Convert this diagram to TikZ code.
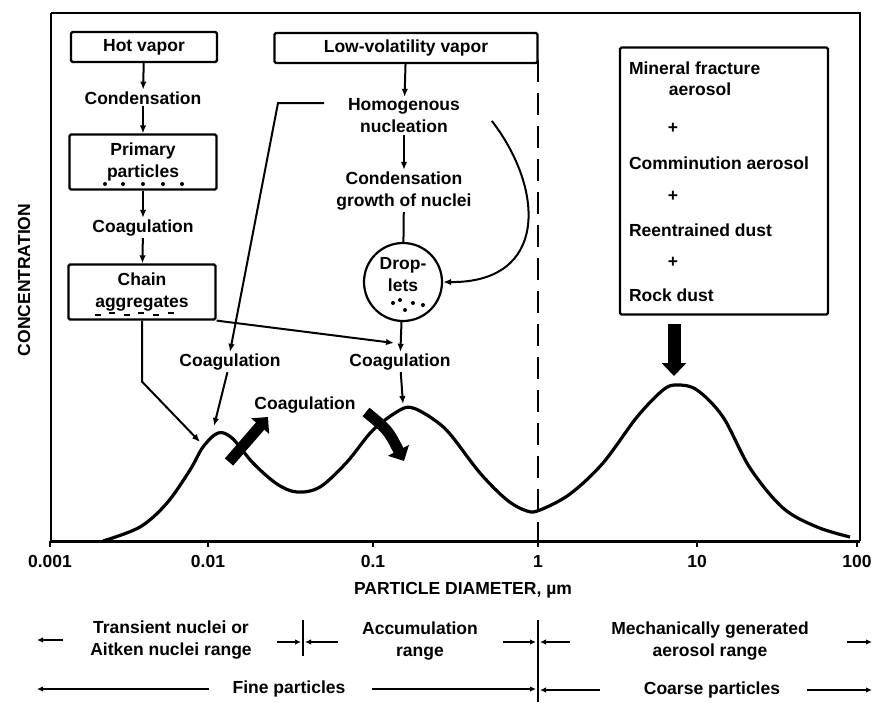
\documentclass[tikz,border=0pt]{standalone}
\usepackage{fontspec}
\setmainfont{Liberation Sans}
\usetikzlibrary{arrows.meta,positioning}

\begin{document}
\begin{tikzpicture}
[ x=1pt, y=-1pt, line width=2pt
, font=\fontsize{17.5}{22}\selectfont\bfseries
, box/.style={rectangle, draw, line width=2.2pt, rounded corners=1.5pt, align=center, inner sep=0pt}
, txt/.style={align=center, inner sep=1pt}
, flow/.style={-{Latex[length=8pt, width=6.5pt]}}
, rangearrow/.style={-{Latex[length=6pt, width=5.5pt]}, line width=2pt}
, fat/.style={line width=11pt, -{Triangle[length=12pt, width=23pt]}}
, curve/.style={line width=3.2pt, line join=round}
]
\useasboundingbox (0,0) rectangle (876,702);

% Frame and axis:
\draw[line width=2.4pt] (51,13) -- (860,13) -- (860,541);
\draw[line width=2.4pt] (51,13) -- (51,541);
\draw[line width=3pt] (51,541) -- (860,541);
\foreach \v/\x in {0.001/50, 0.01/208, 0.1/373, 1/538, 10/697, 100/857}
{ \draw[line width=2pt] (\x,541) -- (\x,547);
  \node (tick\x) [txt] at (\x,561) {\v};
}
\node (xlab) [txt] at (463,590) {PARTICLE DIAMETER, µm};
\node (ylab) [txt, rotate=90] at (24,280) {CONCENTRATION};
\draw[line width=2pt, dash pattern=on 22pt off 11pt] (538,60) -- (538,541);

% Left chain:
\node (hot) [box, minimum width=146pt, minimum height=30pt] at (144,47) {Hot vapor};
\node (cond) [txt] at (143,98) {Condensation};
\node (prim) [box, minimum width=147pt, minimum height=55pt] at (143,162) {Primary\\particles};
\node (coag) [txt] at (143,228) {Coagulation};
\node (chain) [box, minimum width=147pt, minimum height=55pt] at (142,292) {Chain\\aggregates};
\foreach \x in {105,123,143,163,182} \fill (\x,184) circle (2pt);
\foreach \x/\y in {98/315,112/313,127/315,141/313,156/315,171/313} \draw[line width=2.4pt] (\x-3,\y) -- (\x+3,\y);
\draw[flow] (hot) -- (cond);
\draw[flow] (cond) -- (prim);
\draw[flow] (prim) -- (coag);
\draw[flow] (coag) -- (chain);

% Middle chain:
\node (lowvol) [box, minimum width=263pt, minimum height=30pt] at (406,48) {Low-volatility vapor};
\node (homog) [txt] at (404,116) {Homogenous\\nucleation};
\node (growth) [txt] at (404,191) {Condensation\\growth of nuclei};
\node (drop) [circle, draw, line width=2.2pt, minimum size=78pt] at (403,282) {};
\node (droptxt) [txt] at (403,275) {Drop-\\lets};
\foreach \x/\y in {393/303,400/300,405/310,413/303,423/305} \fill (\x,\y) circle (2pt);
\node (coagL) [txt] at (230,362) {Coagulation};
\node (coagR) [txt] at (400,362) {Coagulation};
\node (coagM) [txt] at (305,405) {Coagulation};
\draw[flow] (lowvol) -- (homog);
\draw[flow] (homog) -- (growth);
\draw (growth) -- (drop);
\draw[flow] (drop) -- (coagR);
\draw[flow] ([xshift=30pt, yshift=-5pt]homog.east) .. controls (545,190) and (548,283) .. (drop.east);

% Connectors to the peaks:
\coordinate (elbow) at (278,103);
\coordinate (peakA) at (200,442);
\coordinate (peakAtop) at (214,426);
\coordinate (peakB) at (403,404);
\coordinate (hitB) at (394,343);
\draw[flow] ([xshift=-22pt, yshift=13pt]homog.west) -- (elbow) -- (coagL.north);
\draw[flow] (coagL) -- (peakAtop);
\draw[flow] (chain.south) -- ++(0,61) -- (peakA);
\draw[flow] (chain.south east) -- (hitB);
\draw[flow] (coagR) -- (peakB);

% Right source box:
\node (srcbox) [box, minimum width=208pt, minimum height=267pt] at (724,181) {};
\node (mineral) [txt, anchor=west] at (627,68) {Mineral fracture};
\node (aero) [txt] at (700,89) {aerosol};
\node (plusA) [txt] at (673,128) {+};
\node (comm) [txt, anchor=west] at (627,163) {Comminution aerosol};
\node (plusB) [txt] at (673,196) {+};
\node (reent) [txt, anchor=west] at (627,230) {Reentrained dust};
\node (plusC) [txt] at (673,262) {+};
\node (rock) [txt, anchor=west] at (627,295) {Rock dust};
\coordinate (bigtop) at (674,324);
\coordinate (peakC) at (674,376);
\draw[fat, line width=13pt, -{Triangle[length=13pt, width=24pt]}] (bigtop) -- (peakC);

% Thick coagulation arrows:
\coordinate (fatAfrom) at (229,462);
\coordinate (fatAto) at (268,417);
\coordinate (fatBfrom) at (366,412);
\coordinate (fatBto) at (404,461);
\draw[fat] (fatAfrom) -- (fatAto);
\draw[fat] (fatBfrom) .. controls (388,430) .. (fatBto);

% Size distribution:
\draw[curve] plot[smooth, tension=0.55] coordinates
{ (103,541) (140,527) (167,503) (190,470) (203,447) (218,433) (232,438) (253,463)
  (277,484) (297,492) (320,487) (347,462) (373,430) (400,410) (413,408) (433,419)
  (450,434) (480,473) (507,500) (527,511) (540,510) (570,494) (603,463) (637,417)
  (663,390) (677,385) (697,390) (723,417) (750,468) (783,508) (817,527) (850,537) };

% Ranges:
\node (aitken) [txt] at (171,640) {Transient nuclei or\\Aitken nuclei range};
\node (accum) [txt] at (420,641) {Accumulation\\range};
\node (mech) [txt] at (710,641) {Mechanically generated\\aerosol range};
\node (fine) [txt] at (289,689) {Fine particles};
\node (coarse) [txt] at (712,690) {Coarse particles};
\coordinate (limA) at (303,620);
\coordinate (limB) at (538,620);
\draw (limA) -- ++(0,36);
\draw (limB) -- (538,702);
\draw[rangearrow] (63,640) -- (37,640);
\draw[rangearrow] (277,642) -- (301,642);
\draw[rangearrow] (338,642) -- (305,642);
\draw[rangearrow] (503,642) -- (536,642);
\draw[rangearrow] (570,642) -- (540,642);
\draw[rangearrow] (847,642) -- (872,642);
\draw[rangearrow] (fine.west) ++(-22,0) -- (37,689);
\draw[rangearrow] ([xshift=25pt]fine.east) -- (536,689);
\draw[rangearrow] (600,690) -- (540,690);
\draw[rangearrow] ([xshift=25pt]coarse.east) -- (872,690);
\end{tikzpicture}
\end{document}
